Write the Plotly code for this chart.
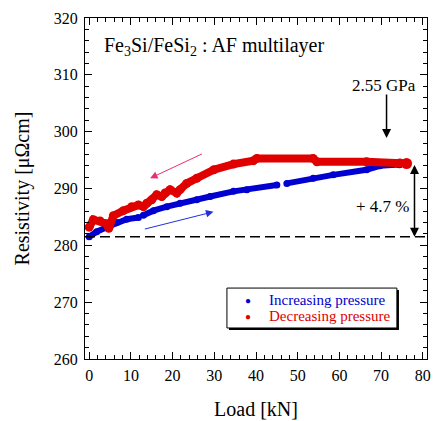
import plotly.graph_objects as go

# ---- data ----
inc_load = [0.0, 1.8, 4.2, 6.6, 9.0, 11.8, None, 13.0, 15.4, 18.6, 21.8, 25.8, 29.0, 34.6, 37.8, 45.0,
            None, 47.4, 53.7, 58.5, 66.5, 69.7, 74.4, 75.5]
inc_res = [281.5, 282.4, 283.2, 284.0, 284.6, 284.9, None, 285.3, 286.1, 286.8, 287.4, 288.0, 288.6, 289.5, 289.8, 290.6,
           None, 290.9, 291.8, 292.4, 293.3, 294.0, 294.2, 294.4]

dec_load = [76.1, 74.5, 66.5, 54.6, 53.7, 40.2, 39.4, 34.6, 29.9, 25.8, 23.4, 21.8, 21.0, 19.4, 18.2, 17.4,
            16.2, 15.0, 13.8, 13.0, 11.8, 10.2, 8.2, 5.8, 4.7, 4.2, 2.6, 1.0, 0.0]
dec_res = [294.4, 294.5, 294.7, 294.7, 295.3, 295.3, 294.9, 294.3, 293.3, 291.8, 290.9, 289.8, 289.2, 289.8, 289.2, 288.6,
           288.9, 288.0, 287.4, 286.8, 287.1, 286.8, 286.1, 285.2, 283.0, 283.8, 284.3, 284.5, 283.2]

baseline_res = 281.5
top_res = 294.4
peak_load = 71.3
legend_names = ["Increasing pressure", "Decreasing pressure"]
BLUE = "#0000d0"
RED = "#e00000"
FONT = "Liberation Serif, Times New Roman, serif"

fig = go.Figure()
fig.add_trace(go.Scatter(x=inc_load, y=inc_res, mode="lines+markers", name=legend_names[0],
                         line=dict(color=BLUE, width=6), marker=dict(color=BLUE, size=7),
                         showlegend=False, connectgaps=False))
fig.add_trace(go.Scatter(x=dec_load, y=dec_res, mode="lines+markers", name=legend_names[1],
                         line=dict(color=RED, width=8), marker=dict(color=RED, size=9),
                         showlegend=False))
fig.add_trace(go.Scatter(x=[dec_load[0]], y=[dec_res[0]], mode="markers",
                         marker=dict(color=RED, size=11), showlegend=False))

fig.add_shape(type="line", xref="paper", x0=0, x1=1, yref="y", y0=baseline_res, y1=baseline_res,
              line=dict(color="black", width=1.5, dash="10px,5px"))
# legend box with shadow
fig.add_shape(type="rect", xref="paper", yref="paper", x0=0.421, x1=0.918, y0=0.085, y1=0.202,
              fillcolor="black", line=dict(width=0), layer="above")
fig.add_shape(type="rect", xref="paper", yref="paper", x0=0.415, x1=0.912, y0=0.091, y1=0.208,
              fillcolor="white", line=dict(width=1, color="black"), layer="above")

ann = []
for name, col, yy in [(legend_names[0], BLUE, 0.172), (legend_names[1], RED, 0.126)]:
    ann.append(dict(x=0.477, y=yy, xref="paper", yref="paper", xanchor="center", yanchor="middle",
                    text="●", showarrow=False, font=dict(size=10, color=col)))
    ann.append(dict(x=0.532, y=yy, xref="paper", yref="paper", xanchor="left", yanchor="middle",
                    text=name, showarrow=False, font=dict(size=15, color=col, family=FONT)))
ann.append(dict(x=0.049, y=0.915, xref="paper", yref="paper", xanchor="left", yanchor="middle",
                text="Fe<sub>3</sub>Si/FeSi<sub>2</sub> : AF multilayer", showarrow=False,
                font=dict(size=20, color="black", family=FONT)))
ann.append(dict(x=70.6, y=308.1, xref="x", yref="y", text="2.55 GPa", showarrow=False,
                font=dict(size=17, color="black", family=FONT)))
ann.append(dict(x=peak_load, y=298.9, ax=peak_load, ay=306.8, xref="x", yref="y", axref="x", ayref="y",
                text="", showarrow=True, arrowhead=2, arrowsize=1.2, arrowwidth=1.5, arrowcolor="black"))
ann.append(dict(x=78, y=baseline_res, ax=78, ay=top_res, xref="x", yref="y", axref="x", ayref="y",
                text="", showarrow=True, arrowhead=2, arrowside="end+start", arrowsize=1.2, arrowwidth=1.5,
                arrowcolor="black"))
ann.append(dict(x=70.5, y=286.9, xref="x", yref="y", text="+ 4.7 %", showarrow=False,
                font=dict(size=17, color="black", family=FONT)))
ann.append(dict(x=14.6, y=291.8, ax=27.4, ay=296.2, xref="x", yref="y", axref="x", ayref="y",
                text="", showarrow=True, arrowhead=2, arrowsize=1.5, arrowwidth=1, arrowcolor="#e8306e"))
ann.append(dict(x=29.8, y=285.9, ax=13.0, ay=282.8, xref="x", yref="y", axref="x", ayref="y",
                text="", showarrow=True, arrowhead=2, arrowsize=1.5, arrowwidth=1, arrowcolor="#2030e0"))

fig.update_layout(
    width=435, height=421,
    margin=dict(l=85, r=8, t=18, b=62),
    paper_bgcolor="white", plot_bgcolor="white",
    font=dict(family=FONT, color="black", size=16),
    annotations=ann,
    showlegend=False,
)
axis_common = dict(ticks="inside", ticklen=7, tickwidth=1, tickcolor="black", mirror="ticks",
                   showline=True, linecolor="black", linewidth=1, showgrid=False, zeroline=False,
                   tickfont=dict(size=16, family=FONT, color="black"), automargin=False)
fig.update_xaxes(range=[-1, 81], tick0=0, dtick=10, ticklabelstandoff=2,
                 minor=dict(dtick=2, ticks="inside", ticklen=4, tickcolor="black", showgrid=False),
                 title=dict(text="Load [kN]", font=dict(size=20, family=FONT), standoff=18), **axis_common)
fig.update_yaxes(range=[260, 320], tick0=260, dtick=10, ticklabelstandoff=3,
                 minor=dict(dtick=2, ticks="inside", ticklen=4, tickcolor="black", showgrid=False),
                 title=dict(text="Resistivity [μΩcm]", font=dict(size=20, family=FONT), standoff=18), **axis_common)

fig.write_html("out.html", config={"displayModeBar": False},
               post_script="document.body.style.margin='0';")
